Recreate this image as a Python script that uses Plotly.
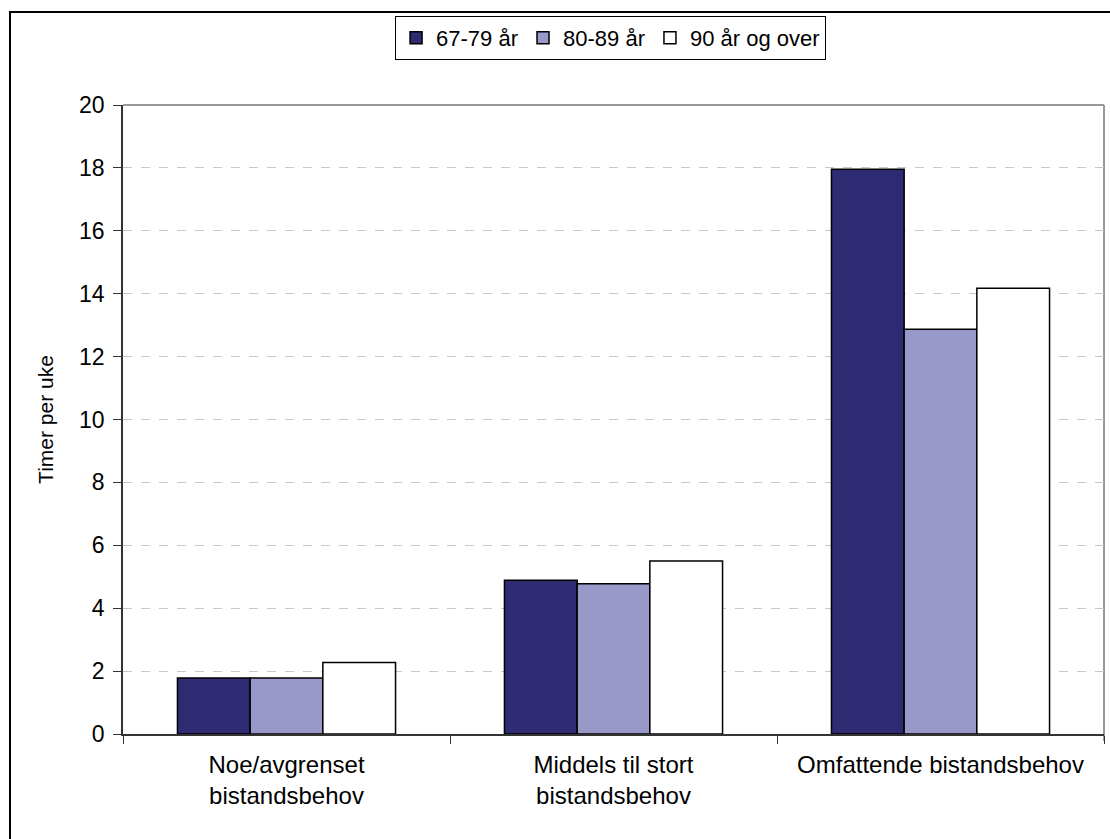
import plotly.graph_objects as go

# Average weekly hours of home care by level of assistance need and age group
categories = [
    "Noe/avgrenset<br>bistandsbehov",
    "Middels til stort<br>bistandsbehov",
    "Omfattende bistandsbehov",
]
series_names = ["67-79 år", "80-89 år", "90 år og over"]
hours_67_79 = [1.78, 4.89, 17.96]
hours_80_89 = [1.78, 4.78, 12.87]
hours_90_plus = [2.27, 5.50, 14.17]
y_ticks = [0, 2, 4, 6, 8, 10, 12, 14, 16, 18, 20]

colors = ["#2E2B73", "#9999C9", "#FFFFFF"]
values = [hours_67_79, hours_80_89, hours_90_plus]

FONT = "Liberation Sans, Arial, sans-serif"

fig = go.Figure()
for name, vals, col in zip(series_names, values, colors):
    fig.add_trace(go.Bar(
        x=categories, y=vals, name=name,
        marker=dict(color=col, line=dict(color="#000000", width=1.5)),
    ))

W, H = 1110, 839
ml, mr, mt, mb = 123, 6, 105, 105
pw, ph = W - ml - mr, H - mt - mb

def px_x(x):
    return (x - ml) / pw

def px_y(y):
    return (H - mb - y) / ph

fig.update_layout(
    width=W, height=H,
    margin=dict(l=ml, r=mr, t=mt, b=mb),
    paper_bgcolor="white", plot_bgcolor="white",
    font=dict(family=FONT, size=23, color="#000000"),
    barmode="group", bargap=0.333, bargroupgap=0,
    showlegend=True,
    legend=dict(
        orientation="h", x=0.497, xanchor="center",
        y=px_y(16), yanchor="top",
        bordercolor="#000000", borderwidth=1,
        font=dict(family=FONT, size=22, color="#000000"),
        itemwidth=30, tracegroupgap=0,
    ),
    xaxis=dict(
        showline=True, linecolor="#333333", linewidth=1.5,
        ticks="outside", ticklen=8, tickcolor="#333333", tickson="boundaries",
        showgrid=False, tickfont=dict(family=FONT, size=24, color="#000000"),
        ticklabelstandoff=8,
    ),
    yaxis=dict(
        range=[0, 20], tickvals=y_ticks, showline=True, linecolor="#333333",
        linewidth=1.5, ticks="outside", ticklen=8, tickcolor="#333333",
        showgrid=True, gridcolor="#C8C8C8", griddash="dash", gridwidth=1,
        zeroline=False, tickfont=dict(family=FONT, size=23, color="#000000"),
        ticklabelstandoff=4,
        title=dict(text="Timer per uke",
                   font=dict(family=FONT, size=21, color="#000000"), standoff=20),
    ),
    shapes=[
        # grey plot-area frame (top and right)
        dict(type="line", xref="paper", yref="paper", x0=0, x1=1, y0=1, y1=1,
             line=dict(color="#999999", width=2), layer="below"),
        dict(type="line", xref="paper", yref="paper", x0=1, x1=1, y0=px_y(741), y1=1,
             line=dict(color="#999999", width=2), layer="below"),
        # outer chart frame
        dict(type="rect", xref="paper", yref="paper",
             x0=px_x(10), x1=px_x(1120), y0=px_y(850), y1=px_y(12),
             line=dict(color="#000000", width=2), fillcolor="rgba(0,0,0,0)"),
    ],
)

fig.write_html("out.html")
